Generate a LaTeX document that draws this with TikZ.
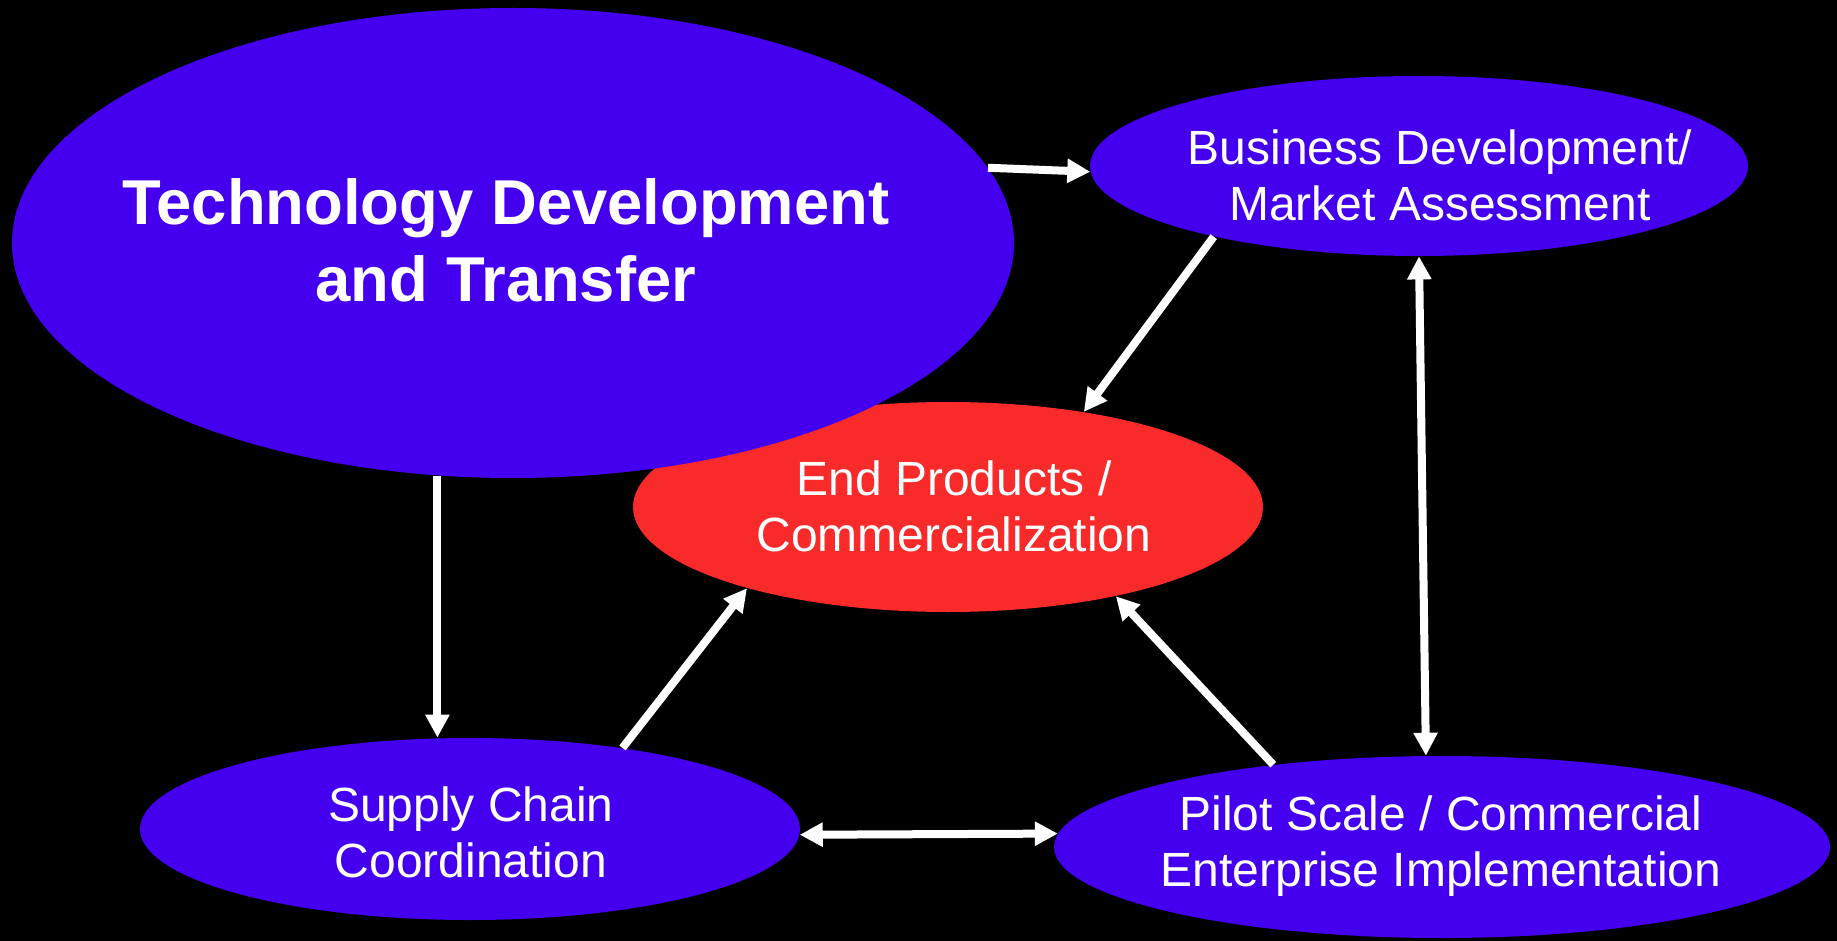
\documentclass[tikz,border=0pt]{standalone}
\usepackage{fontspec}
\setmainfont{Liberation Sans}
\usetikzlibrary{shapes.geometric,arrows.meta}
\definecolor{blobblue}{RGB}{68,0,238}
\definecolor{blobred}{RGB}{249,42,42}
\begin{document}
\begin{tikzpicture}[x=0.5pt,y=-0.5pt]
  \tikzstyle{blob}=[ellipse,inner sep=0pt,fill=blobblue]
  \tikzstyle{txt}=[text=white,align=center,inner sep=0pt,font=\fontsize{24}{28}\selectfont]
  \tikzstyle{link}=[white,line width=4pt,-{Triangle[length=11.5pt,width=11.5pt]}]
  \tikzstyle{both}=[white,line width=4pt,{Triangle[length=11.5pt,width=11.5pt]}-{Triangle[length=11.5pt,width=11.5pt]}]
  \fill[black] (0,0) rectangle (1837,941);

  \node[blob,fill=blobred,minimum width=315pt,minimum height=105pt] (end) at (948,507) {};
  \node[blob,minimum width=501pt,minimum height=235pt] (tech) at (513,243) {};
  \node[blob,minimum width=329pt,minimum height=90pt] (biz) at (1419,166) {};
  \node[blob,minimum width=330pt,minimum height=91pt] (supply) at (470,829) {};
  \node[blob,minimum width=388pt,minimum height=91pt] (pilot) at (1442,847) {};

  \node[txt,font=\bfseries\fontsize{31.7}{38.5}\selectfont] (techtext) at (506,240) {Technology Development\\and Transfer};
  \node[txt] (biztext) at (1440,175) {Business Development/\\Market Assessment};
  \node[txt] (endtext) at (954,506) {End Products /\\Commercialization};
  \node[txt] (supplytext) at (471,832) {Supply Chain\\Coordination};
  \node[txt] (pilottext) at (1441,846) {Pilot Scale / Commercial\\Enterprise Implementation};

  \draw[link] (tech.9) -- (biz.181);
  \draw[link] (biz.199) -- (end.35);
  \draw[both] (biz.south) -- (pilot.100);
  \draw[link] (tech.252.5) -- (tech.252.5 |- supply.north);
  \draw[link] (supply.28) -- (end.202);
  \draw[link] (pilot.154.5) -- (end.332);
  \draw[both] (supply.359) -- (pilot.178);
\end{tikzpicture}
\end{document}
